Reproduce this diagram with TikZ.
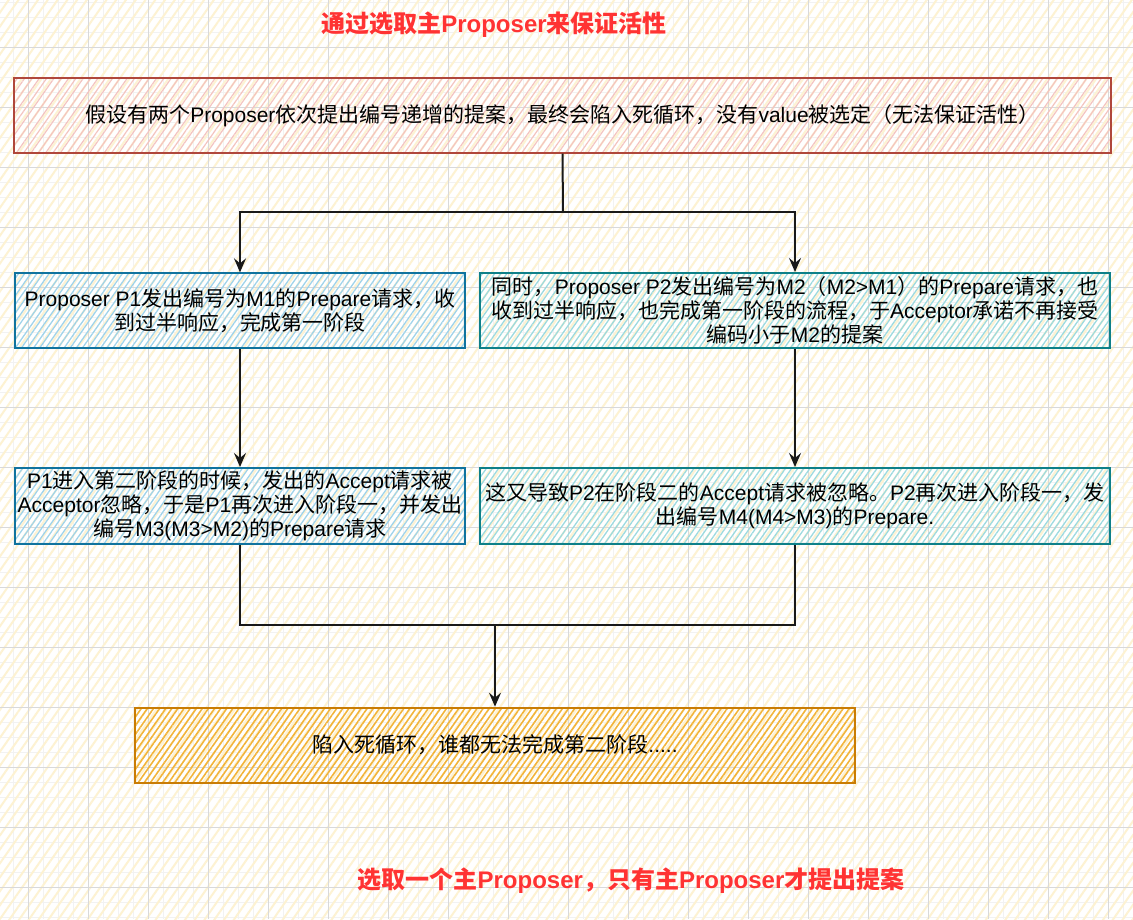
\documentclass[tikz,border=0pt]{standalone}
\usepackage{fontspec}
\setmainfont{Liberation Sans}
\newfontfamily\cjk{Noto Sans CJK SC}
\usetikzlibrary{arrows.meta,patterns.meta}

% CJK characters switch to the CJK family by themselves
\XeTeXinterchartokenstate=1
\newXeTeXintercharclass\cjkclass
\newcount\cjkchar
\def\setcjkrange#1#2{\cjkchar=#1 \loop\XeTeXcharclass\cjkchar=\cjkclass\ifnum\cjkchar<#2 \advance\cjkchar by 1 \repeat}
\setcjkrange{"3000}{"303F}
\setcjkrange{"4E00}{"9FFF}
\setcjkrange{"FF00}{"FFEF}
\XeTeXinterchartoks 0 \cjkclass={\begingroup\cjk}
\XeTeXinterchartoks 4095 \cjkclass={\begingroup\cjk}
\XeTeXinterchartoks \cjkclass 0={\endgroup}
\XeTeXinterchartoks \cjkclass 4095={\endgroup}

\definecolor{bghatch}{HTML}{FDF2D2}
\definecolor{minorgrid}{HTML}{F2F2F2}
\definecolor{majorgrid}{HTML}{D9D9D9}
\definecolor{redline}{HTML}{B0473B}
\definecolor{redhatch}{HTML}{F4C4C0}
\definecolor{blueline}{HTML}{10739E}
\definecolor{bluehatch}{HTML}{9FD3EA}
\definecolor{tealline}{HTML}{0E8088}
\definecolor{tealhatch}{HTML}{9CDADF}
\definecolor{orangeline}{HTML}{C97C04}
\definecolor{orangehatch}{HTML}{F2B43A}
\definecolor{titlered}{HTML}{FF3333}

\tikzset{
  box/.style={draw, line width=2pt, minimum height=75pt, inner sep=0pt, align=center,
    font=\fontsize{21}{24}\selectfont},
  redbox/.style={box, draw=redline, pattern={Lines[angle=55,distance=6pt,line width=1.2pt]}, pattern color=redhatch},
  bluebox/.style={box, draw=blueline, pattern={Lines[angle=55,distance=5pt,line width=1.3pt]}, pattern color=bluehatch},
  tealbox/.style={box, draw=tealline, pattern={Lines[angle=55,distance=5pt,line width=1.3pt]}, pattern color=tealhatch},
  orangebox/.style={box, draw=orangeline, pattern={Lines[angle=55,distance=5pt,line width=1.6pt]}, pattern color=orangehatch},
  headline/.style={text=titlered, font=\fontsize{24}{28}\selectfont\bfseries},
  link/.style={line width=2pt, draw=black!90},
  arr/.style={link, -{Stealth[length=14pt,width=12pt,inset=5pt]}},
}

\begin{document}
\begin{tikzpicture}[x=1pt,y=-1pt]
\useasboundingbox (0,0) rectangle (1133,919);
\fill[white] (0,0) rectangle (1133,919);
\foreach \gx in {13,28,...,1133} \draw[minorgrid, line width=1pt] (\gx,0) -- (\gx,919);
\foreach \gy in {2,17,...,919} \draw[minorgrid, line width=1pt] (0,\gy) -- (1133,\gy);
\fill[pattern={Lines[angle=55,distance=8pt,line width=2pt]}, pattern color=bghatch] (0,0) rectangle (1133,919);
\foreach \gx in {28,88,...,1133} \draw[majorgrid, line width=1pt] (\gx,0) -- (\gx,919);
\foreach \gy in {47,107,...,919} \draw[majorgrid, line width=1pt] (0,\gy) -- (1133,\gy);

\node[headline] (title) at (494,25) {通过选取主Proposer来保证活性};

\node[redbox, minimum width=1097pt] (premise) at (562.5,115.5)
  {假设有两个Proposer依次提出编号递增的提案，最终会陷入死循环，没有value被选定（无法保证活性）};

\node[bluebox, minimum width=450pt] (p1prep) at (240,310.5)
  {Proposer P1发出编号为M1的Prepare请求，收\\到过半响应，完成第一阶段};
\node[tealbox, minimum width=630pt] (p2prep) at (795,310.5)
  {同时，Proposer P2发出编号为M2（M2>M1）的Prepare请求，也\\收到过半响应，也完成第一阶段的流程，于Acceptor承诺不再接受\\编码小于M2的提案};

\node[bluebox, minimum width=450pt, minimum height=76pt] (p1acc) at (240,506)
  {P1进入第二阶段的时候，发出的Accept请求被\\Acceptor忽略，于是P1再次进入阶段一，并发出\\编号M3(M3>M2)的Prepare请求};
\node[tealbox, minimum width=630pt, minimum height=76pt] (p2acc) at (795,506)
  {这又导致P2在阶段二的Accept请求被忽略。P2再次进入阶段一，发\\出编号M4(M4>M3)的Prepare.};

\node[orangebox, minimum width=720pt] (deadloop) at (495,745)
  {陷入死循环，谁都无法完成第二阶段.....};

\node[headline] (remedy) at (631,881) {选取一个主Proposer，只有主Proposer才提出提案};

\coordinate (fork) at (563,212);
\coordinate (join) at (495,625);
\draw[link] (premise.south) -- (fork);
\draw[arr] (fork) -| (p1prep.north);
\draw[arr] (fork) -| (p2prep.north);
\draw[arr] (p1prep) -- (p1acc);
\draw[arr] (p2prep) -- (p2acc);
\draw[link] (p1acc.south) |- (join);
\draw[link] (p2acc.south) |- (join);
\draw[arr] (join) -- (deadloop.north);
\end{tikzpicture}
\end{document}
